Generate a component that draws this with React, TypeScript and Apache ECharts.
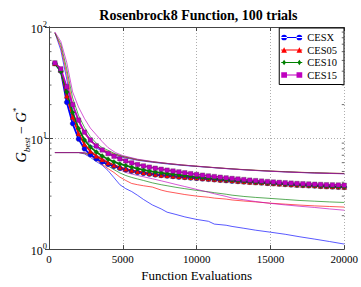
import React, { useEffect, useRef } from "react";
import * as echarts from "echarts";

const FONT = "Liberation Serif";

const seriesNames = ["CESX", "CES05", "CES10", "CES15"];
const lineColors = ["#0000ff", "#ff0000", "#008000", "#bf00bf"];
const thinColors = ["rgba(0,0,255,0.65)", "rgba(255,0,0,0.65)", "rgba(0,128,0,0.65)", "rgba(191,0,191,0.65)"];
const symbols = ["circle", "triangle", "diamond", "rect"];
const legendIcons = [
  "path://M0,2.5 H22 V3.5 H0 Z M0,3 A3,3 0 1,0 6,3 A3,3 0 1,0 0,3 Z M16,3 A3,3 0 1,0 22,3 A3,3 0 1,0 16,3 Z",
  "path://M0,2.5 H22 V3.5 H0 Z M0,6 L3,0 L6,6 Z M16,6 L19,0 L22,6 Z",
  "path://M0,2.5 H22 V3.5 H0 Z M3,0 L5,3 L3,6 L1,3 Z M19,0 L21,3 L19,6 L17,3 Z",
  "path://M0,2.5 H22 V3.5 H0 Z M0,0 H6 V6 H0 Z M16,0 H22 V6 H16 Z",
];

const xTicks = [0, 5000, 10000, 15000, 20000];
const yTickExponents = ["0", "1", "2"];
const yMinorTicks = [2, 3, 4, 5, 6, 7, 8, 9, 20, 30, 40, 50, 60, 70, 80, 90];

const meanEvals = [400, 800, 1200, 1600, 2000, 2400, 2800, 3200, 3600, 4000, 4400, 4800, 5200, 5600, 6000, 6400, 6800, 7200, 7600, 8000, 8400, 8800, 9200, 9600, 10000, 10400, 10800, 11200, 11600, 12000, 12400, 12800, 13200, 13600, 14000, 14400, 14800, 15200, 15600, 16000, 16400, 16800, 17200, 17600, 18000, 18400, 18800, 19200, 19600, 20000];

const cesxMean = [47, 40, 21, 13.5, 9.8, 8.0, 7.1, 6.5, 6.1, 5.8, 5.55, 5.35, 5.18, 5.03, 4.92, 4.82, 4.74, 4.67, 4.61, 4.56, 4.51, 4.46, 4.42, 4.38, 4.34, 4.3, 4.26, 4.22, 4.18, 4.14, 4.1, 4.07, 4.04, 4.01, 3.98, 3.95, 3.92, 3.89, 3.86, 3.83, 3.8, 3.77, 3.75, 3.73, 3.71, 3.68, 3.66, 3.64, 3.62, 3.6];
const ces05Mean = [47, 41, 24, 15.5, 11, 8.8, 7.6, 6.9, 6.4, 6.0, 5.7, 5.45, 5.27, 5.12, 5.0, 4.9, 4.81, 4.73, 4.66, 4.6, 4.55, 4.5, 4.46, 4.42, 4.38, 4.34, 4.3, 4.26, 4.22, 4.18, 4.14, 4.1, 4.06, 4.03, 4.0, 3.97, 3.94, 3.91, 3.88, 3.85, 3.82, 3.79, 3.77, 3.75, 3.73, 3.7, 3.68, 3.66, 3.64, 3.62];
const ces10Mean = [47, 40, 26, 17, 12.2, 9.6, 8.3, 7.5, 6.9, 6.45, 6.1, 5.85, 5.65, 5.47, 5.3, 5.16, 5.04, 4.94, 4.86, 4.78, 4.71, 4.65, 4.59, 4.53, 4.47, 4.42, 4.37, 4.32, 4.27, 4.22, 4.18, 4.14, 4.1, 4.06, 4.02, 3.98, 3.95, 3.92, 3.89, 3.86, 3.83, 3.8, 3.78, 3.76, 3.74, 3.72, 3.7, 3.68, 3.66, 3.64];
const ces15Mean = [47.5, 42, 29, 20, 14.5, 11.3, 9.6, 8.5, 7.8, 7.25, 6.85, 6.5, 6.22, 5.98, 5.78, 5.61, 5.47, 5.35, 5.24, 5.14, 5.05, 4.96, 4.87, 4.78, 4.7, 4.63, 4.56, 4.5, 4.44, 4.38, 4.33, 4.28, 4.23, 4.18, 4.14, 4.1, 4.06, 4.02, 3.99, 3.96, 3.93, 3.9, 3.88, 3.86, 3.84, 3.82, 3.8, 3.79, 3.78, 3.76];

const upperEvals = [400, 800, 1200, 1600, 2000, 2400, 2800, 3200, 3600, 4000, 4500, 5000, 6000, 7000, 8000, 9000, 10000, 11000, 12000, 13000, 14000, 15000, 16000, 17000, 18000, 19000, 20000];
const cesxUpper = [89, 62, 34, 18, 12, 9.8, 8.7, 8.1, 7.7, 7.4, 7.0, 6.7, 6.3, 6.05, 5.85, 5.68, 5.55, 5.43, 5.31, 5.2, 5.11, 5.03, 4.96, 4.9, 4.85, 4.81, 4.78];
const ces05Upper = [89, 66, 38, 20, 14, 11, 9.4, 8.5, 7.9, 7.55, 7.1, 6.8, 6.35, 6.1, 5.9, 5.72, 5.58, 5.45, 5.33, 5.22, 5.13, 5.05, 4.98, 4.92, 4.87, 4.83, 4.8];
const ces10Upper = [88, 70, 42, 23, 16, 12.5, 10.3, 9.0, 8.2, 7.75, 7.2, 6.85, 6.4, 6.12, 5.9, 5.72, 5.57, 5.44, 5.32, 5.21, 5.12, 5.04, 4.97, 4.91, 4.86, 4.82, 4.79];
const ces15Upper = [90, 74, 48, 26, 19, 15, 12.3, 10.7, 9.3, 8.2, 7.4, 6.95, 6.45, 6.15, 5.92, 5.73, 5.58, 5.44, 5.31, 5.2, 5.1, 5.02, 4.95, 4.89, 4.84, 4.8, 4.76];

const lowerEvals = [400, 2000, 2400, 2800, 3200, 3600, 4000, 4400, 4800, 5200, 5600, 6000, 6400, 7000, 7600, 8000, 8600, 9200, 10000, 10800, 11200, 12000, 12400, 13200, 14000, 15000, 16000, 17000, 18000, 19000, 20000];
const cesxLower = [7.4, 7.4, 7.2, 6.7, 6.15, 5.7, 5.1, 4.4, 3.8, 3.5, 3.3, 3.05, 2.8, 2.5, 2.3, 2.15, 2.05, 1.95, 1.85, 1.78, 1.68, 1.64, 1.6, 1.54, 1.48, 1.42, 1.36, 1.29, 1.23, 1.17, 1.11];
const ces05Lower = [7.4, 7.4, 7.3, 6.9, 6.4, 5.8, 5.3, 4.9, 4.45, 4.15, 3.9, 3.8, 3.72, 3.62, 3.4, 3.3, 3.2, 3.1, 3.0, 2.93, 2.88, 2.82, 2.77, 2.71, 2.66, 2.59, 2.54, 2.49, 2.45, 2.42, 2.39];
const ces10Lower = [7.4, 7.4, 7.35, 7.1, 6.6, 6.1, 5.6, 5.2, 4.85, 4.6, 4.42, 4.28, 4.15, 3.95, 3.8, 3.72, 3.6, 3.5, 3.38, 3.28, 3.22, 3.12, 3.06, 2.98, 2.92, 2.86, 2.8, 2.74, 2.7, 2.66, 2.63];
const ces15Lower = [7.4, 7.4, 7.4, 7.3, 7.0, 6.6, 6.1, 5.6, 5.2, 4.9, 4.75, 4.6, 4.48, 4.3, 4.12, 4.0, 3.82, 3.66, 3.45, 3.25, 3.15, 2.98, 2.88, 2.78, 2.68, 2.58, 2.5, 2.43, 2.37, 2.3, 2.24];

const means = [cesxMean, ces05Mean, ces10Mean, ces15Mean];
const uppers = [cesxUpper, ces05Upper, ces10Upper, ces15Upper];
const lowers = [cesxLower, ces05Lower, ces10Lower, ces15Lower];

const zip = (xs: number[], ys: number[]) => xs.map((x, i) => [x, ys[i]]);

export default function App() {
  const ref = useRef<HTMLDivElement>(null);
  useEffect(() => {
    if (!ref.current) return;
    const chart = echarts.init(ref.current, undefined, { renderer: "svg" });
    const series: any[] = [];
    seriesNames.forEach((name, k) => {
      series.push({
        name: name + " upper", type: "line", data: zip(upperEvals, uppers[k]), showSymbol: false,
        lineStyle: { color: thinColors[k], width: 1 }, itemStyle: { color: thinColors[k] }, z: 2, silent: true,
      });
      series.push({
        name: name + " lower", type: "line", data: zip(lowerEvals, lowers[k]), showSymbol: false,
        lineStyle: { color: thinColors[k], width: 1 }, itemStyle: { color: thinColors[k] }, z: 2, silent: true,
      });
    });
    seriesNames.forEach((name, k) => {
      series.push({
        name, type: "line", data: zip(meanEvals, means[k]), symbol: symbols[k],
        symbolSize: symbols[k] === "rect" ? 4.5 : 5,
        showSymbol: true,
        lineStyle: { color: lineColors[k], width: 1.8 },
        itemStyle: { color: lineColors[k], borderColor: "#333", borderWidth: 0.3 },
        z: 3,
      });
    });
    series.push({
      type: "custom", silent: true, z: 5,
      data: yMinorTicks.map((v) => [0, v]),
      renderItem: (params: any, api: any) => {
        const v = api.value(1);
        const pL = api.coord([xTicks[0], v]);
        const pR = api.coord([xTicks[xTicks.length - 1], v]);
        return {
          type: "group",
          children: [
            { type: "line", shape: { x1: pL[0], y1: pL[1], x2: pL[0] + 2.5, y2: pL[1] }, style: { stroke: "#444", lineWidth: 0.8 } },
            { type: "line", shape: { x1: pR[0] - 2.5, y1: pR[1], x2: pR[0], y2: pR[1] }, style: { stroke: "#444", lineWidth: 0.8 } },
          ],
        };
      },
    });

    const axisLine = { show: true, lineStyle: { color: "#444", width: 1 } };
    const option: any = {
      animation: false,
      textStyle: { fontFamily: FONT },
      grid: { left: 49, right: 13, top: 27, bottom: 29 },
      legend: {
        data: seriesNames.map((name, k) => ({ name, icon: legendIcons[k], itemStyle: { borderWidth: 0 } })),
        orient: "vertical", right: 17, top: 28,
        itemWidth: 21, itemHeight: 6, itemGap: 1.5, padding: [4, 7, 4, 2],
        borderColor: "#000", borderWidth: 1, backgroundColor: "#fff", borderRadius: 0,
        textStyle: { fontFamily: FONT, fontSize: 10.5, color: "#000" },
      },
      xAxis: [
        {
          type: "value", min: xTicks[0], max: xTicks[xTicks.length - 1], interval: 5000,
          name: "Function Evaluations", nameLocation: "middle", nameGap: 16,
          nameTextStyle: { fontFamily: FONT, fontSize: 13, color: "#000" },
          axisLine, axisTick: { show: true, inside: true, length: 4, lineStyle: { color: "#444" } },
          axisLabel: { fontFamily: FONT, fontSize: 11, color: "#000", margin: 4, formatter: (v: number) => String(v) },
          splitLine: { show: true, lineStyle: { color: "#999", type: [1, 2], width: 0.8 } },
        },
        {
          type: "value", position: "top", min: xTicks[0], max: xTicks[xTicks.length - 1], interval: 5000,
          axisLine, axisTick: { show: true, inside: true, length: 4, lineStyle: { color: "#444" } },
          axisLabel: { show: false }, splitLine: { show: false },
        },
      ],
      yAxis: [
        {
          type: "log", logBase: 10, min: 1, max: 100,
          axisLine, axisTick: { show: true, inside: true, length: 4, lineStyle: { color: "#444" } },
          axisLabel: {
            margin: 2,
            formatter: (v: number) => `{b|10}{s|${yTickExponents[Math.round(Math.log10(v))]}}`,
            rich: {
              b: { fontFamily: FONT, fontSize: 12, color: "#000", lineHeight: 16, verticalAlign: "bottom" },
              s: { fontFamily: FONT, fontSize: 8.5, color: "#000", lineHeight: 10, verticalAlign: "top" },
            },
          },
          splitLine: { show: true, lineStyle: { color: "#999", type: [1, 2], width: 0.8 } },
        },
        {
          type: "log", logBase: 10, min: 1, max: 100, position: "right",
          axisLine, axisTick: { show: true, inside: true, length: 4, lineStyle: { color: "#444" } },
          axisLabel: { show: false }, splitLine: { show: false },
        },
      ],
      graphic: [
        {
          type: "text", x: 198.4, y: 15,
          style: { text: "Rosenbrock8 Function, 100 trials", align: "center", verticalAlign: "middle", fontFamily: FONT, fontWeight: "bold", fontSize: 14, fill: "#000" },
        },
        {
          type: "text", x: 21, y: 135, rotation: Math.PI / 2,
          style: {
            text: "{i|G}{sub|best}{n| − }{i|G}{sup|*}", align: "center", verticalAlign: "middle",
            rich: {
              i: { fontFamily: FONT, fontStyle: "italic", fontSize: 14.5, lineHeight: 20, verticalAlign: "middle", fill: "#000" },
              sub: { fontFamily: FONT, fontStyle: "italic", fontSize: 9, lineHeight: 9, verticalAlign: "bottom", fill: "#000" },
              n: { fontFamily: FONT, fontSize: 14, lineHeight: 20, verticalAlign: "middle", fill: "#000" },
              sup: { fontFamily: FONT, fontSize: 9, lineHeight: 9, verticalAlign: "top", fill: "#000" },
            },
          },
        },
      ],
      series,
    };
    chart.setOption(option);
    return () => chart.dispose();
  }, []);
  return <div ref={ref} style={{ position: "fixed", left: 0, top: 0, width: 361, height: 287, background: "#fff" }} />;
}
